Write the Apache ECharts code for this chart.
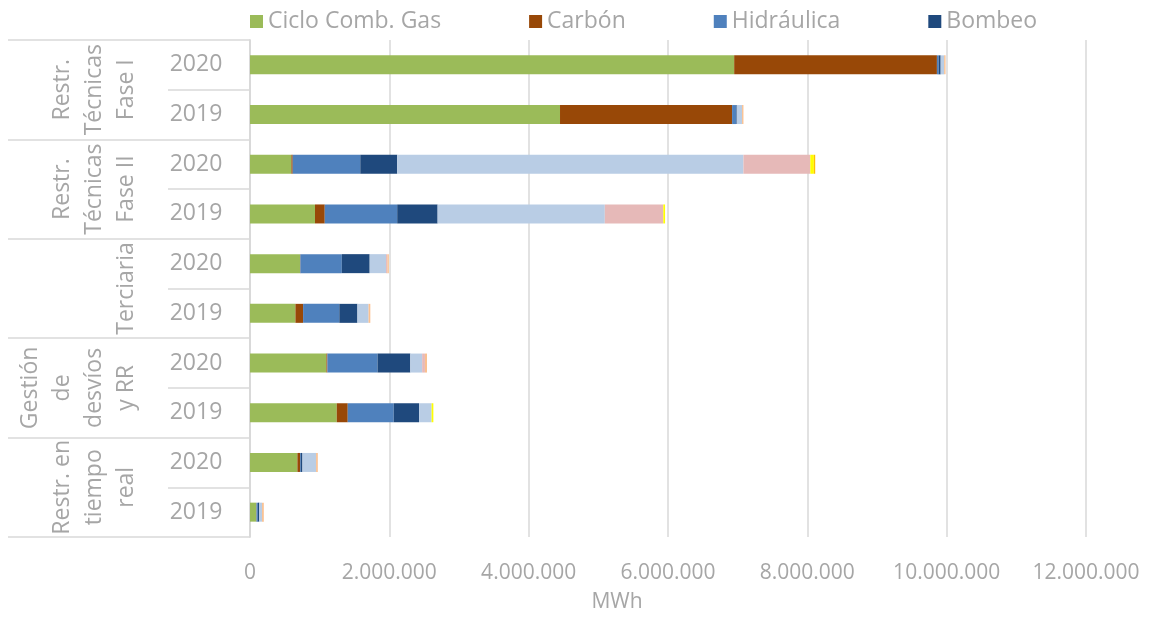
<!DOCTYPE html>
<html>
<head>
<meta charset="utf-8">
<script src="https://cdn.jsdelivr.net/npm/echarts@6/dist/echarts.min.js"></script>
<style>html,body{margin:0;padding:0;background:#fff}#c{width:1157px;height:621px}</style>
</head>
<body>
<div id="c"></div>
<script>
// Categories (top to bottom)
var years = ['2020', '2019', '2020', '2019', '2020', '2019', '2020', '2019', '2020', '2019'];
var groups = ['Restr.\nTécnicas\nFase I', 'Restr.\nTécnicas\nFase II', 'Terciaria', 'Gestión\nde\ndesvíos\ny RR', 'Restr. en\ntiempo\nreal'];
// Series values (MWh), same order as years
var cicloComb  = [6950000, 4450000, 594000, 933000, 718000, 652000, 1097000, 1245000, 680000, 90000];
var carbon     = [2910000, 2470000, 19000, 140000, 5000, 110000, 14000, 158000, 38000, 3000];
var hidraulica = [24000, 57000, 970000, 1040000, 595000, 520000, 720000, 660000, 10000, 20000];
var bombeo     = [30000, 10000, 530000, 580000, 400000, 260000, 470000, 364000, 25000, 20000];
var eolica     = [50000, 76000, 4970000, 2400000, 235000, 160000, 170000, 180000, 196000, 40000];
var solarFV    = [0, 0, 960000, 840000, 20000, 0, 40000, 0, 0, 0];
var solarTerm  = [0, 0, 50000, 25000, 0, 0, 0, 25000, 0, 0];
var cogen      = [0, 0, 20000, 0, 0, 0, 0, 0, 0, 0];
var resto      = [20000, 20000, 0, 0, 20000, 25000, 30000, 0, 24000, 25000];
// Axis ticks
var xMin = 0, xMax = 12000000, xStep = 2000000;
var legendNames = ['Ciclo Comb. Gas', 'Carbón', 'Hidráulica', 'Bombeo'];

var seriesDefs = [
  ['Ciclo Comb. Gas', cicloComb, '#9BBB59'],
  ['Carbón', carbon, '#984807'],
  ['Hidráulica', hidraulica, '#4F81BD'],
  ['Bombeo', bombeo, '#1F497D'],
  ['Eólica', eolica, '#B9CDE5'],
  ['Solar fotovoltaica', solarFV, '#E6B9B8'],
  ['Solar térmica', solarTerm, '#FFFF00'],
  ['Cogeneración', cogen, '#FFC000'],
  ['Resto', resto, '#FAC090']
];

var txt = '#a6a6a6';
var font = 'Open Sans';
var sepColor = '#d9d9d9';

function fmt(v) { return String(v).replace(/\B(?=(\d{3})+(?!\d))/g, '.'); }

var chart = echarts.init(document.getElementById('c'), null, {renderer: 'canvas'});
chart.setOption({
  animation: false,
  textStyle: {fontFamily: font},
  legend: {
    data: legendNames,
    left: 245, top: 5,
    itemWidth: 13, itemHeight: 13, itemGap: 88,
    icon: 'rect',
    textStyle: {color: txt, fontSize: 23, fontFamily: font}
  },
  grid: {left: 250, right: 71, top: 40, bottom: 84, containLabel: false},
  xAxis: {
    type: 'value', min: xMin, max: xMax, interval: xStep,
    axisLine: {show: false}, axisTick: {show: false},
    splitLine: {show: true, lineStyle: {color: sepColor, width: 1.5}},
    axisLabel: {color: txt, fontSize: 21, margin: 26, formatter: fmt},
    name: 'MWh', nameLocation: 'middle', nameGap: 55,
    nameTextStyle: {color: txt, fontSize: 21, padding: [0, 102, 0, 0]}
  },
  yAxis: [{
    type: 'category', data: years, inverse: true,
    axisLine: {show: true, lineStyle: {color: sepColor, width: 1.5}},
    axisTick: {show: true, interval: 0, length: 82, lineStyle: {color: sepColor, width: 1.5}},
    axisLabel: {color: txt, fontSize: 23, margin: 54, align: 'center', interval: 0}
  }, {
    type: 'category', data: groups, inverse: true, position: 'left', offset: 0,
    axisLine: {show: true, lineStyle: {color: sepColor, width: 1.5}},
    axisTick: {show: true, interval: 0, length: 242, lineStyle: {color: sepColor, width: 1.5}},
    axisLabel: {color: txt, fontSize: 23, margin: 108, rotate: 90, lineHeight: 32, interval: 0, hideOverlap: false}
  }],
  series: seriesDefs.map(function (d) {
    return {
      name: d[0], type: 'bar', stack: 'total', yAxisIndex: 0,
      data: d[1], barWidth: 19,
      itemStyle: {color: d[2]}
    };
  })
});
</script>
</body>
</html>
